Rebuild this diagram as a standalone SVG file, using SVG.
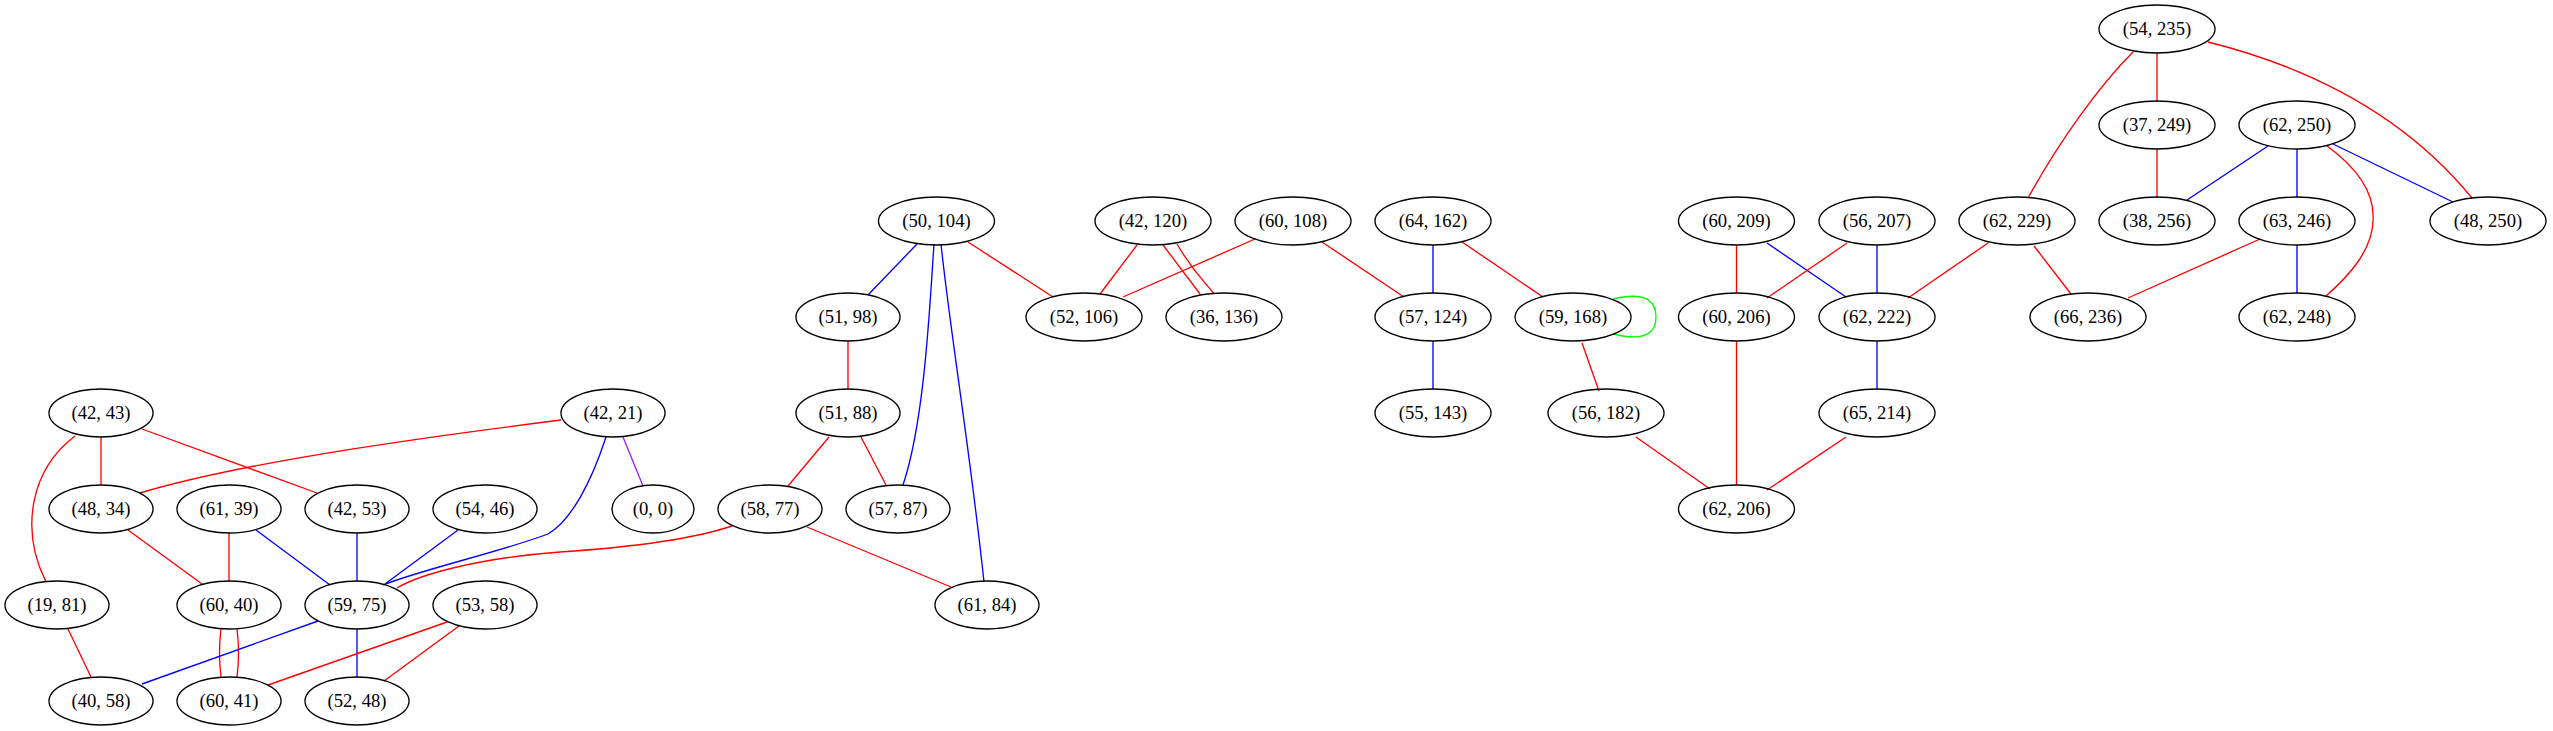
<svg xmlns="http://www.w3.org/2000/svg" width="2553" height="731" viewBox="0 0 2553 731">
<style>
.n ellipse{fill:none;stroke:#000;stroke-width:1.33}
.n text{font-family:"Liberation Serif","Times New Roman",serif;font-size:18.67px;text-anchor:middle;fill:#000}
.e path{fill:none;stroke-width:1.33}
.r{stroke:#ff0000}
.b{stroke:#0000ff}
.p{stroke:#a020f0}
.g{stroke:#00ff00}
</style>
<rect width="2553" height="731" fill="#fff"/>
<g id="edges" class="e">
<!-- left cluster -->
<path class="r" d="M101,437 L101,485"/>
<path class="r" d="M142,429 L317,493"/>
<path class="r" d="M75,436 C30,470 20,530 46,582"/>
<path class="r" d="M561,420 C450,434 250,460 140,493"/>
<path class="b" d="M606,437 C592,480 572,520 548,534 C500,552 420,570 383,585"/>
<path class="p" d="M623,437 L643,486"/>
<path class="r" d="M128,530 L202,584"/>
<path class="r" d="M229,533 L229,581"/>
<path class="b" d="M256,530 L330,585"/>
<path class="b" d="M357,533 L357,581"/>
<path class="b" d="M458,530 L385,584"/>
<path class="r" d="M732,526 C690,540 620,548 560,552 C480,558 420,574 397,588"/>
<path class="r" d="M68,629 L91,677"/>
<path class="r" d="M221,629 C219,645 219,661 221,677"/>
<path class="r" d="M237,629 C239,645 239,661 237,677"/>
<path class="b" d="M318,621 L142,684"/>
<path class="b" d="M357,629 L357,677"/>
<path class="r" d="M447,622 L268,685"/>
<path class="r" d="M459,626 L384,681"/>
<!-- middle cluster -->
<path class="b" d="M917,244 L868,295"/>
<path class="b" d="M934,244 C930,300 925,420 903,485"/>
<path class="b" d="M941,244 C950,330 970,450 984,582"/>
<path class="r" d="M968,242 L1053,297"/>
<path class="r" d="M1137,245 L1100,294"/>
<path class="r" d="M1163,245 L1200,294"/>
<path class="r" d="M1177,244 C1195,275 1208,285 1214,294"/>
<path class="r" d="M1255,239 L1123,297"/>
<path class="r" d="M1322,242 L1404,297"/>
<path class="b" d="M1433,245 L1433,293"/>
<path class="r" d="M1462,242 L1543,297"/>
<path class="b" d="M1433,341 L1433,389"/>
<path class="r" d="M848,341 L848,389"/>
<path class="r" d="M829,437 L788,486"/>
<path class="r" d="M861,437 L886,485"/>
<path class="r" d="M807,527 L951,587"/>
<!-- right cluster -->
<path class="g" d="M1613,299 C1650,290 1656,305 1656,317 C1656,329 1650,343 1613,334"/>
<path class="r" d="M1582,343 L1599,391"/>
<path class="r" d="M1636,437 L1710,489"/>
<path class="r" d="M1736.5,245 L1736.5,293"/>
<path class="b" d="M1767,243 L1846,297"/>
<path class="r" d="M1847,243 L1767,298"/>
<path class="b" d="M1877,245 L1877,293"/>
<path class="r" d="M1988,243 L1908,298"/>
<path class="r" d="M2034,246 L2071,294"/>
<path class="r" d="M1736.5,341 L1736.5,485"/>
<path class="b" d="M1877,341 L1877,389"/>
<path class="r" d="M1846,437 L1767,490"/>
<path class="r" d="M2133,52 C2100,85 2060,140 2028,198"/>
<path class="r" d="M2157,53 L2157,101"/>
<path class="r" d="M2208,42 C2300,65 2400,110 2472,198"/>
<path class="r" d="M2157,149 L2157,197"/>
<path class="b" d="M2268,146 L2187,200"/>
<path class="b" d="M2297,149 L2297,197"/>
<path class="b" d="M2333,144 L2453,202"/>
<path class="r" d="M2327,146 C2360,170 2375,195 2373,221 C2372,250 2350,275 2326,296"/>
<path class="r" d="M2260,239 L2128,298"/>
<path class="b" d="M2297,245 L2297,293"/>
</g>
<g id="n_54_235" class="n"><ellipse cx="2157" cy="29" rx="58" ry="24"/><text x="2157" y="35">(54, 235)</text></g>
<g id="n_37_249" class="n"><ellipse cx="2157" cy="125" rx="58" ry="24"/><text x="2157" y="131">(37, 249)</text></g>
<g id="n_62_250" class="n"><ellipse cx="2297" cy="125" rx="58" ry="24"/><text x="2297" y="131">(62, 250)</text></g>
<g id="n_50_104" class="n"><ellipse cx="936.5" cy="221" rx="58" ry="24"/><text x="936.5" y="227">(50, 104)</text></g>
<g id="n_42_120" class="n"><ellipse cx="1153" cy="221" rx="58" ry="24"/><text x="1153" y="227">(42, 120)</text></g>
<g id="n_60_108" class="n"><ellipse cx="1293" cy="221" rx="58" ry="24"/><text x="1293" y="227">(60, 108)</text></g>
<g id="n_64_162" class="n"><ellipse cx="1433" cy="221" rx="58" ry="24"/><text x="1433" y="227">(64, 162)</text></g>
<g id="n_60_209" class="n"><ellipse cx="1736.5" cy="221" rx="58" ry="24"/><text x="1736.5" y="227">(60, 209)</text></g>
<g id="n_56_207" class="n"><ellipse cx="1877" cy="221" rx="58" ry="24"/><text x="1877" y="227">(56, 207)</text></g>
<g id="n_62_229" class="n"><ellipse cx="2017" cy="221" rx="58" ry="24"/><text x="2017" y="227">(62, 229)</text></g>
<g id="n_38_256" class="n"><ellipse cx="2157" cy="221" rx="58" ry="24"/><text x="2157" y="227">(38, 256)</text></g>
<g id="n_63_246" class="n"><ellipse cx="2297" cy="221" rx="58" ry="24"/><text x="2297" y="227">(63, 246)</text></g>
<g id="n_48_250" class="n"><ellipse cx="2488" cy="221" rx="58" ry="24"/><text x="2488" y="227">(48, 250)</text></g>
<g id="n_51_98" class="n"><ellipse cx="848" cy="317" rx="52" ry="24"/><text x="848" y="323">(51, 98)</text></g>
<g id="n_52_106" class="n"><ellipse cx="1084" cy="317" rx="58" ry="24"/><text x="1084" y="323">(52, 106)</text></g>
<g id="n_36_136" class="n"><ellipse cx="1224" cy="317" rx="58" ry="24"/><text x="1224" y="323">(36, 136)</text></g>
<g id="n_57_124" class="n"><ellipse cx="1433" cy="317" rx="58" ry="24"/><text x="1433" y="323">(57, 124)</text></g>
<g id="n_59_168" class="n"><ellipse cx="1573" cy="317" rx="58" ry="24"/><text x="1573" y="323">(59, 168)</text></g>
<g id="n_60_206" class="n"><ellipse cx="1736.5" cy="317" rx="58" ry="24"/><text x="1736.5" y="323">(60, 206)</text></g>
<g id="n_62_222" class="n"><ellipse cx="1877" cy="317" rx="58" ry="24"/><text x="1877" y="323">(62, 222)</text></g>
<g id="n_66_236" class="n"><ellipse cx="2088" cy="317" rx="58" ry="24"/><text x="2088" y="323">(66, 236)</text></g>
<g id="n_62_248" class="n"><ellipse cx="2297" cy="317" rx="58" ry="24"/><text x="2297" y="323">(62, 248)</text></g>
<g id="n_42_43" class="n"><ellipse cx="101" cy="413" rx="52" ry="24"/><text x="101" y="419">(42, 43)</text></g>
<g id="n_42_21" class="n"><ellipse cx="613" cy="413" rx="52" ry="24"/><text x="613" y="419">(42, 21)</text></g>
<g id="n_51_88" class="n"><ellipse cx="848" cy="413" rx="52" ry="24"/><text x="848" y="419">(51, 88)</text></g>
<g id="n_55_143" class="n"><ellipse cx="1433" cy="413" rx="58" ry="24"/><text x="1433" y="419">(55, 143)</text></g>
<g id="n_56_182" class="n"><ellipse cx="1606" cy="413" rx="58" ry="24"/><text x="1606" y="419">(56, 182)</text></g>
<g id="n_65_214" class="n"><ellipse cx="1877" cy="413" rx="58" ry="24"/><text x="1877" y="419">(65, 214)</text></g>
<g id="n_48_34" class="n"><ellipse cx="101" cy="509" rx="52" ry="24"/><text x="101" y="515">(48, 34)</text></g>
<g id="n_61_39" class="n"><ellipse cx="229" cy="509" rx="52" ry="24"/><text x="229" y="515">(61, 39)</text></g>
<g id="n_42_53" class="n"><ellipse cx="357" cy="509" rx="52" ry="24"/><text x="357" y="515">(42, 53)</text></g>
<g id="n_54_46" class="n"><ellipse cx="485" cy="509" rx="52" ry="24"/><text x="485" y="515">(54, 46)</text></g>
<g id="n_0_0" class="n"><ellipse cx="653" cy="509" rx="41" ry="24"/><text x="653" y="515">(0, 0)</text></g>
<g id="n_58_77" class="n"><ellipse cx="770" cy="509" rx="52" ry="24"/><text x="770" y="515">(58, 77)</text></g>
<g id="n_57_87" class="n"><ellipse cx="898" cy="509" rx="52" ry="24"/><text x="898" y="515">(57, 87)</text></g>
<g id="n_62_206" class="n"><ellipse cx="1736.5" cy="509" rx="58" ry="24"/><text x="1736.5" y="515">(62, 206)</text></g>
<g id="n_19_81" class="n"><ellipse cx="57" cy="605" rx="52" ry="24"/><text x="57" y="611">(19, 81)</text></g>
<g id="n_60_40" class="n"><ellipse cx="229" cy="605" rx="52" ry="24"/><text x="229" y="611">(60, 40)</text></g>
<g id="n_59_75" class="n"><ellipse cx="357" cy="605" rx="52" ry="24"/><text x="357" y="611">(59, 75)</text></g>
<g id="n_53_58" class="n"><ellipse cx="485" cy="605" rx="52" ry="24"/><text x="485" y="611">(53, 58)</text></g>
<g id="n_61_84" class="n"><ellipse cx="987" cy="605" rx="52" ry="24"/><text x="987" y="611">(61, 84)</text></g>
<g id="n_40_58" class="n"><ellipse cx="101" cy="701" rx="52" ry="24"/><text x="101" y="707">(40, 58)</text></g>
<g id="n_60_41" class="n"><ellipse cx="229" cy="701" rx="52" ry="24"/><text x="229" y="707">(60, 41)</text></g>
<g id="n_52_48" class="n"><ellipse cx="357" cy="701" rx="52" ry="24"/><text x="357" y="707">(52, 48)</text></g>
</svg>
